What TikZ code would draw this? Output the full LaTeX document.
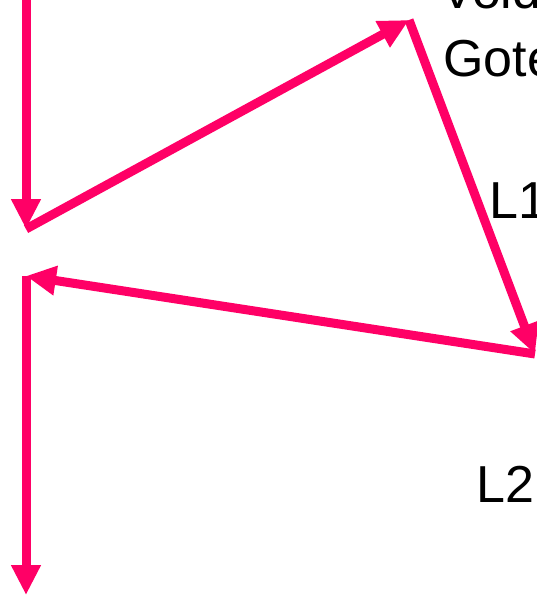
\documentclass[tikz,border=0pt]{standalone}
\usepackage{fontspec}
\setmainfont{Liberation Sans}
\usetikzlibrary{arrows.meta}
\definecolor{pinkred}{RGB}{255,0,102}
\begin{document}
\begin{tikzpicture}[x=1pt,y=-1pt,
  conn/.style={draw=pinkred, line width=9pt, -{Triangle[length=30pt,width=28pt]}},
  lbl/.style={anchor=base west, inner sep=0pt, font=\fontsize{52}{62}\selectfont}]
\useasboundingbox (0,0) rectangle (536,596);
\coordinate (t0) at (26,-10);
\coordinate (p1) at (26,229);
\coordinate (p2) at (409,20);
\coordinate (p3) at (535,354);
\coordinate (p4) at (26,276);
\coordinate (p5) at (26,595);
\draw[conn] (t0) -- (p1);
\draw[conn] (p1) -- (p2);
\draw[conn] (p2) -- (p3);
\draw[conn] (p3) -- (p4);
\draw[conn] (p4) -- (p5);
\node[lbl] (vold) at (440,9) {Vold};
\node[lbl] (gote) at (443,77) {Gote};
\node[lbl] (l1) at (489,218) {L1};
\node[lbl] (l2) at (476,502) {L2};
\end{tikzpicture}
\end{document}
